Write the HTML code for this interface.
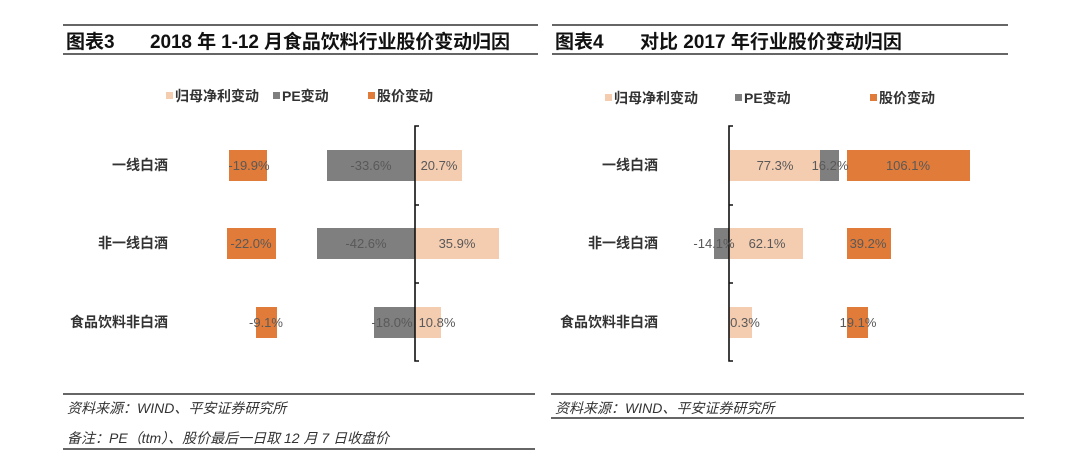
<!DOCTYPE html>
<html><head><meta charset="utf-8"><style>
body{margin:0;background:#fff;width:1080px;height:459px;overflow:hidden}
svg text{font-family:"Liberation Sans","Noto Sans CJK SC",sans-serif}
</style></head><body>
<svg width="1080" height="459" xmlns="http://www.w3.org/2000/svg">
<g stroke="#333" stroke-width="1.5">
<line x1="63" y1="25" x2="538" y2="25"/><line x1="63" y1="54" x2="538" y2="54"/>
<line x1="552" y1="25" x2="1008" y2="25"/><line x1="552" y1="54" x2="1008" y2="54"/>
<line x1="63" y1="394" x2="535" y2="394"/><line x1="63" y1="449" x2="535" y2="449"/>
<line x1="551" y1="394" x2="1024" y2="394"/><line x1="551" y1="418" x2="1024" y2="418"/>
</g>
<text x="66" y="48" font-size="19" font-weight="bold" fill="#111">图表3</text>
<text x="150" y="48" font-size="19" font-weight="bold" fill="#111" textLength="360">2018 年 1-12 月食品饮料行业股价变动归因</text>
<text x="555" y="48" font-size="19" font-weight="bold" fill="#111">图表4</text>
<text x="640" y="48" font-size="19" font-weight="bold" fill="#111">对比 2017 年行业股价变动归因</text>
<g font-size="14" font-weight="bold" fill="#333">
<rect x="166" y="92" width="7" height="7" fill="#f4ccb0"/><text x="175" y="101">归母净利变动</text>
<rect x="273" y="92" width="7" height="7" fill="#7f7f7f"/><text x="282" y="101">PE变动</text>
<rect x="368" y="92" width="7" height="7" fill="#e07b39"/><text x="377" y="101">股价变动</text>
<rect x="605" y="94" width="7" height="7" fill="#f4ccb0"/><text x="614" y="103">归母净利变动</text>
<rect x="735" y="94" width="7" height="7" fill="#7f7f7f"/><text x="744" y="103">PE变动</text>
<rect x="870" y="94" width="7" height="7" fill="#e07b39"/><text x="879" y="103">股价变动</text>
<text x="168" y="170" text-anchor="end">一线白酒</text>
<text x="168" y="248" text-anchor="end">非一线白酒</text>
<text x="168" y="327" text-anchor="end">食品饮料非白酒</text>
<text x="658" y="170" text-anchor="end">一线白酒</text>
<text x="658" y="248" text-anchor="end">非一线白酒</text>
<text x="658" y="327" text-anchor="end">食品饮料非白酒</text>
</g>
<g>
<rect x="229" y="150" width="38" height="31" fill="#e07b39"/>
<rect x="327" y="150" width="88" height="31" fill="#7f7f7f"/>
<rect x="415" y="150" width="47" height="31" fill="#f4ccb0"/>
<rect x="227" y="228" width="49" height="31" fill="#e07b39"/>
<rect x="317" y="228" width="98" height="31" fill="#7f7f7f"/>
<rect x="415" y="228" width="84" height="31" fill="#f4ccb0"/>
<rect x="256" y="307" width="21" height="31" fill="#e07b39"/>
<rect x="374" y="307" width="41" height="31" fill="#7f7f7f"/>
<rect x="415" y="307" width="26" height="31" fill="#f4ccb0"/>
<rect x="729" y="150" width="91" height="31" fill="#f4ccb0"/>
<rect x="820" y="150" width="19" height="31" fill="#7f7f7f"/>
<rect x="847" y="150" width="123" height="31" fill="#e07b39"/>
<rect x="714" y="228" width="15" height="31" fill="#7f7f7f"/>
<rect x="729" y="228" width="74" height="31" fill="#f4ccb0"/>
<rect x="847" y="228" width="44" height="31" fill="#e07b39"/>
<rect x="729" y="307" width="23" height="31" fill="#f4ccb0"/>
<rect x="847" y="307" width="21" height="31" fill="#e07b39"/>
</g>
<g stroke="#111" stroke-width="1.6" fill="none">
<path d="M419 126H415V361H419M415 205H419M415 283H419"/>
<path d="M733 126H729V361H733M729 205H733M729 283H733"/>
</g>
<g font-size="13" fill="#595959" text-anchor="middle">
<text x="249" y="170">-19.9%</text><text x="371" y="170">-33.6%</text><text x="439" y="170">20.7%</text>
<text x="251" y="248">-22.0%</text><text x="366" y="248">-42.6%</text><text x="457" y="248">35.9%</text>
<text x="266" y="327">-9.1%</text><text x="392" y="327">-18.0%</text><text x="437" y="327">10.8%</text>
<text x="775" y="170">77.3%</text><text x="830" y="170">16.2%</text><text x="908" y="170">106.1%</text>
<text x="714" y="248">-14.1%</text><text x="767" y="248">62.1%</text><text x="868" y="248">39.2%</text>
<text x="745" y="327">0.3%</text><text x="858" y="327">19.1%</text>
</g>
<g font-size="14" font-style="italic" fill="#333">
<text x="67" y="413">资料来源：WIND、平安证券研究所</text>
<text x="67" y="443">备注：PE（ttm）、股价最后一日取 12 月 7 日收盘价</text>
<text x="555" y="413">资料来源：WIND、平安证券研究所</text>
</g>
</svg>
</body></html>
